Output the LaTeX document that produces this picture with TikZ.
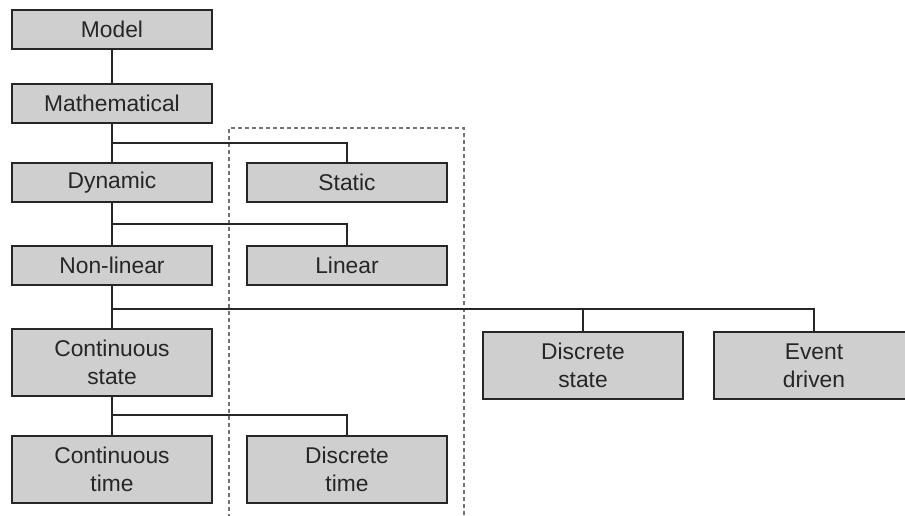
\documentclass[tikz,border=0pt]{standalone}
\usepackage{fontspec}
\setmainfont{Liberation Sans}
\begin{document}
\begin{tikzpicture}[x=1pt,y=1pt,
  box/.style={draw=black!85, line width=2pt, fill=black!19, minimum width=200pt, inner sep=0pt,
    align=center, text=black!85, font=\fontsize{22.8}{28}\selectfont},
  one/.style={box, minimum height=39pt},
  two/.style={box, minimum height=67pt},
  conn/.style={draw=black!85, line width=2pt},
  grp/.style={draw=black!55, line width=1.5pt, dash pattern=on 4pt off 3pt}]
\useasboundingbox (0,0) rectangle (905,-515);
\begin{scope}
\clip (0,0) rectangle (905,-515);
\draw[grp] (229,-525) |- (464,-128) -- (464,-525);
\node[one] (model) at (112,-29.5) {Model};
\node[one] (math) at (112,-103) {Mathematical};
\node[one] (dyn) at (112,-182.5) {Dynamic};
\node[one] (stat) at (347,-182.5) {Static};
\node[one] (nonlin) at (112,-265) {Non-linear};
\node[one] (lin) at (347,-265) {Linear};
\node[two] (cstate) at (112,-362.5) {Continuous\\state};
\node[two] (dstate) at (583,-365.5) {Discrete\\state};
\node[two] (event) at (814,-365.5) {Event\\driven};
\node[two] (ctime) at (112,-469) {Continuous\\time};
\node[two] (dtime) at (347,-469) {Discrete\\time};
\coordinate (j1) at (112,-143);
\coordinate (j2) at (112,-224);
\coordinate (j3) at (112,-308.5);
\coordinate (j4) at (112,-415);
\draw[conn] (model) -- (math);
\draw[conn] (math) -- (dyn);
\draw[conn] (j1) -| (stat);
\draw[conn] (dyn) -- (nonlin);
\draw[conn] (j2) -| (lin);
\draw[conn] (nonlin) -- (cstate);
\draw[conn] (j3) -| (dstate);
\draw[conn] (j3) -| (event);
\draw[conn] (cstate) -- (ctime);
\draw[conn] (j4) -| (dtime);
\end{scope}
\end{tikzpicture}
\end{document}
